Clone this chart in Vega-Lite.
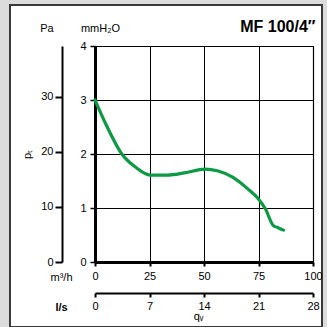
{
  "$schema": "https://vega.github.io/schema/vega-lite/v6.json",
  "width": 312,
  "height": 322,
  "autosize": "none",
  "padding": {"left": 10, "top": 5, "right": 5, "bottom": 0},
  "background": "#dcdcdc",
  "config": {
    "view": {"fill": "white", "stroke": "#3a3a3a", "strokeWidth": 2},
    "axis": {"labelFont": "Liberation Sans", "titleFont": "Liberation Sans", "labelColor": "black", "titleColor": "black", "labelFontSize": 11, "titleFontSize": 11, "titleFontWeight": "normal", "tickColor": "black", "domainColor": "black"}
  },
  "data": {"values": [
    {"q": 0, "p": 3.0},
    {"q": 4.9, "p": 2.56},
    {"q": 12.3, "p": 2.0},
    {"q": 18.8, "p": 1.75},
    {"q": 25.3, "p": 1.61},
    {"q": 33.2, "p": 1.61},
    {"q": 41.0, "p": 1.65},
    {"q": 50.4, "p": 1.72},
    {"q": 56.1, "p": 1.69},
    {"q": 63.1, "p": 1.57},
    {"q": 70.2, "p": 1.35},
    {"q": 74.5, "p": 1.19},
    {"q": 78.2, "p": 0.98},
    {"q": 81.7, "p": 0.68},
    {"q": 84.2, "p": 0.63},
    {"q": 86.5, "p": 0.59}
  ]},
  "layer": [
    {
      "mark": {"type": "point", "opacity": 0},
      "encoding": {
        "x": {"datum": 0, "type": "quantitative",
          "scale": {"domain": [0, 100], "range": [85, 303], "nice": false, "zero": false},
          "axis": {"orient": "top", "offset": -41, "values": [0, 25, 50, 75, 100], "grid": true, "gridColor": "black", "gridWidth": 1,
            "domain": true, "domainWidth": 1.2, "ticks": false, "labels": false,
            "title": "MF 100/4″", "titleFontSize": 16, "titleFontWeight": "bold", "titleX": 305, "titleY": -15, "titleAlign": "right", "titleBaseline": "alphabetic", "titleAngle": 0}},
        "y": {"datum": 0, "type": "quantitative",
          "scale": {"domain": [0, 4], "range": [257, 41], "nice": false, "zero": false},
          "axis": {"orient": "right", "offset": -9, "domain": true, "domainWidth": 1.2, "ticks": false, "labels": false, "grid": false, "title": null}}
      }
    },
    {
      "mark": {"type": "line", "color": "#0d9a45", "strokeWidth": 3.2, "interpolate": "monotone", "strokeCap": "round"},
      "encoding": {
        "x": {"field": "q", "type": "quantitative",
          "scale": {"domain": [0, 100], "range": [85, 303], "nice": false, "zero": false},
          "axis": {"orient": "bottom", "offset": -65, "values": [0, 25, 50, 75, 100], "grid": false,
            "domainWidth": 3, "tickSize": 4, "tickWidth": 2, "labelPadding": 4, "labelFlush": false,
            "title": "m³/h", "titleX": 51, "titleY": 18, "titleAlign": "center", "titleBaseline": "alphabetic", "titleAngle": 0}},
        "y": {"field": "p", "type": "quantitative",
          "scale": {"domain": [0, 4], "range": [257, 41], "nice": false, "zero": false},
          "axis": {"orient": "left", "offset": -85, "values": [0, 1, 2, 3, 4], "grid": true, "gridColor": "black", "gridWidth": 1,
            "domainWidth": 3, "tickSize": 5, "tickWidth": 1.5, "labelPadding": 4, "labelFlush": false, "labelBaseline": "middle",
            "title": "mmH₂O", "titleX": 5, "titleY": 26, "titleAlign": "center", "titleBaseline": "alphabetic", "titleAngle": 0}}
      }
    },
    {
      "mark": {"type": "point", "opacity": 0},
      "encoding": {
        "x": {"datum": 0, "type": "quantitative",
          "scale": {"domain": [0, 28], "range": [85, 303], "nice": false, "zero": false},
          "axis": {"orient": "bottom", "offset": -34, "values": [0, 7, 14, 21, 28], "grid": false,
            "domainWidth": 2, "tickSize": 4, "tickWidth": 2, "labelPadding": 3, "labelFlush": false,
            "title": "l/s", "titleFontWeight": "bold", "titleX": 51, "titleY": 17, "titleAlign": "center", "titleBaseline": "alphabetic", "titleAngle": 0}},
        "y": {"datum": 0, "type": "quantitative",
          "scale": {"domain": [0, 39.23], "range": [257, 41], "nice": false, "zero": false},
          "axis": {"orient": "left", "offset": -52, "values": [0, 10, 20, 30], "grid": false,
            "domainWidth": 2, "tickSize": 7, "tickWidth": 2, "labelPadding": 2, "labelFlush": false, "labelBaseline": "middle",
            "title": "Pa", "titleX": -15.5, "titleY": 26, "titleAlign": "center", "titleBaseline": "alphabetic", "titleAngle": 0}}
      }
    },
    {
      "mark": {"type": "point", "opacity": 0},
      "encoding": {
        "x": {"datum": 0, "type": "quantitative",
          "scale": {"domain": [0, 1], "range": [85, 303]},
          "axis": {"orient": "bottom", "offset": -65, "domain": false, "ticks": false, "labels": false, "grid": false,
            "title": "qᵥ", "titleX": 188, "titleY": 57, "titleAlign": "center", "titleBaseline": "alphabetic", "titleAngle": 0}},
        "y": {"datum": 0, "type": "quantitative",
          "scale": {"domain": [0, 1], "range": [257, 41]},
          "axis": {"orient": "left", "offset": -85, "domain": false, "ticks": false, "labels": false, "grid": false,
            "title": "pₜ", "titleX": -68, "titleY": 149, "titleAlign": "center", "titleBaseline": "middle", "titleAngle": 270}}
      }
    }
  ],
  "resolve": {"scale": {"x": "independent", "y": "independent"}}
}
